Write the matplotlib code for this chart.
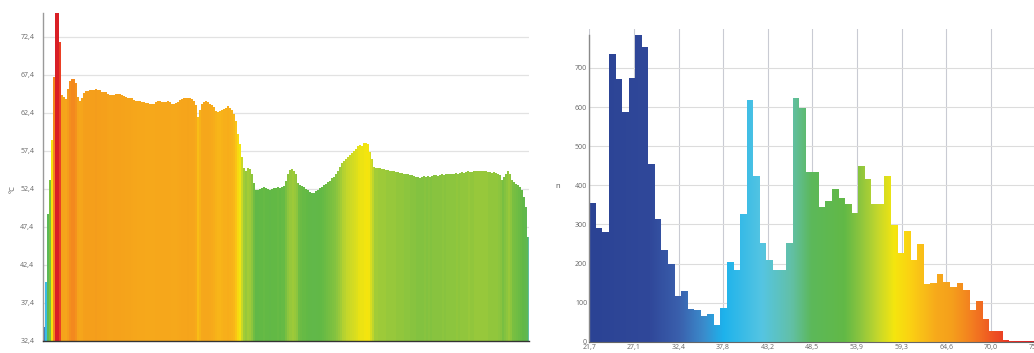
import numpy as np
import matplotlib
matplotlib.use("Agg")
import matplotlib.pyplot as plt
from matplotlib.colors import LinearSegmentedColormap, Normalize
from matplotlib.patches import Polygon

# ---------------- data ----------------
# temperature time series (°C), one value per sample
temperature = [
    34.3, 40.2, 49.1, 53.6, 58.8, 67.1, 76.0, 76.0, 71.7, 64.7,
    64.5, 64.2, 65.6, 66.6, 66.9, 66.9, 66.3, 64.5, 64.0, 64.3,
    65.0, 65.3, 65.3, 65.4, 65.4, 65.4, 65.5, 65.4, 65.4, 65.2,
    65.2, 65.1, 64.9, 64.7, 64.7, 64.8, 64.9, 64.9, 64.9, 64.7,
    64.6, 64.5, 64.4, 64.4, 64.3, 64.1, 64.0, 63.9, 63.9, 63.8,
    63.8, 63.7, 63.7, 63.6, 63.6, 63.6, 63.8, 63.9, 63.9, 63.8,
    63.8, 63.8, 63.9, 63.8, 63.6, 63.6, 63.7, 63.8, 64.1, 64.2,
    64.3, 64.3, 64.4, 64.3, 64.2, 64.0, 63.5, 61.9, 62.8, 63.6,
    63.8, 63.9, 63.8, 63.6, 63.4, 63.2, 62.7, 62.5, 62.6, 62.8,
    62.9, 63.1, 63.3, 63.1, 62.8, 62.3, 61.3, 59.6, 58.3, 56.6,
    55.2, 54.8, 55.2, 55.0, 54.3, 53.2, 52.2, 52.3, 52.4, 52.5,
    52.6, 52.5, 52.4, 52.3, 52.4, 52.5, 52.5, 52.6, 52.5, 52.7,
    52.8, 53.5, 54.4, 54.9, 55.0, 54.8, 54.3, 53.2, 52.9, 52.8,
    52.7, 52.4, 52.2, 52.0, 51.8, 51.9, 52.1, 52.3, 52.5, 52.7,
    52.9, 53.1, 53.3, 53.5, 53.8, 54.0, 54.3, 54.8, 55.3, 55.8,
    56.1, 56.4, 56.6, 56.8, 57.1, 57.4, 57.6, 58.0, 58.2, 58.1,
    58.4, 58.5, 58.3, 57.3, 56.3, 55.3, 55.2, 55.1, 55.1, 55.0,
    55.0, 54.9, 54.9, 54.8, 54.8, 54.7, 54.6, 54.6, 54.5, 54.5,
    54.4, 54.3, 54.3, 54.2, 54.2, 54.1, 54.0, 54.0, 53.9, 54.0,
    54.1, 54.0, 54.1, 54.0, 54.1, 54.2, 54.2, 54.1, 54.2, 54.3,
    54.2, 54.3, 54.4, 54.4, 54.3, 54.4, 54.5, 54.4, 54.5, 54.6,
    54.5, 54.6, 54.7, 54.6, 54.6, 54.7, 54.7, 54.8, 54.7, 54.7,
    54.8, 54.7, 54.6, 54.6, 54.5, 54.6, 54.5, 54.4, 54.2, 53.6,
    54.0, 54.4, 54.8, 54.3, 53.6, 53.3, 53.1, 52.9, 52.7, 52.2,
    51.4, 50.0, 46.1,
]
temp_ticks = [32.4, 37.4, 42.4, 47.4, 52.4, 57.4, 62.4, 67.4, 72.4]
temp_tick_labels = ["32,4", "37,4", "42,4", "47,4", "52,4", "57,4", "62,4", "67,4", "72,4"]
temp_unit = "°C"

# histogram of temperatures
hist_counts = [
    354, 292, 281, 735, 673, 587, 675, 784, 754, 454,
    314, 234, 198, 116, 130, 84, 82, 66, 70, 42,
    85, 204, 183, 326, 617, 425, 253, 210, 183, 183,
    253, 624, 597, 433, 433, 345, 360, 390, 367, 352,
    328, 449, 415, 352, 352, 423, 298, 226, 284, 210,
    249, 147, 151, 173, 153, 139, 151, 132, 81, 104,
    58, 27, 27, 4, 3, 2, 2, 1,
]
hist_min, hist_max = 21.7, 75.4
hist_ticks = [21.7, 27.07, 32.44, 37.81, 43.18, 48.55, 53.92, 59.29, 64.66, 70.03, 75.4]
hist_tick_labels = ["21,7", "27,1", "32,4", "37,8", "43,2", "48,5", "53,9", "59,3", "64,6", "70,0", "75,4"]
count_ticks = [0, 100, 200, 300, 400, 500, 600, 700]
count_label = "n"

# temperature colour scale
color_stops = [
    (21.7, "#2b4394"), (29.0, "#30489a"), (32.5, "#3a60ad"), (35.5, "#3a8ccc"),
    (37.8, "#1db2ec"), (42.5, "#55c5e2"), (46.0, "#62c0a8"), (48.5, "#5cb85a"),
    (52.5, "#62b946"), (54.5, "#8fc63e"), (56.5, "#c4d72c"), (58.5, "#f5e60e"),
    (60.5, "#fbd013"), (62.0, "#f9bd18"), (63.5, "#f7aa1b"), (65.5, "#f59f1c"),
    (68.0, "#f37c20"), (70.5, "#ee5223"), (73.0, "#e62b26"), (75.5, "#d91f26"),
]

# ---------------- figure ----------------
W, H = 1034, 353
fig = plt.figure(figsize=(W / 100, H / 100), dpi=100)
plt.rcParams["font.family"] = ["Open Sans", "DejaVu Sans"]

def frac(x0, y0, x1, y1):
    return [x0 / W, 1 - y1 / H, (x1 - x0) / W, (y1 - y0) / H]

vmin, vmax = color_stops[0][0], color_stops[-1][0]
cmap = LinearSegmentedColormap.from_list(
    "temp", [((v - vmin) / (vmax - vmin), c) for v, c in color_stops])
norm = Normalize(vmin=vmin, vmax=vmax)

tick_color = "#666666"
fs = 5

# ---- left: time series ----
ax1 = fig.add_axes(frac(42.7, 13.3, 528.7, 341))
t = np.asarray(temperature)
n = len(t)
ymin, ymax = 32.4, 75.5
verts = [(0, ymin)]
for i, v in enumerate(t):
    verts += [(i, v), (i + 1, v)]
verts += [(n, ymin)]
poly = Polygon(verts, closed=True, facecolor="none", edgecolor="none")
ax1.add_patch(poly)
im1 = ax1.imshow(t[None, :], cmap=cmap, norm=norm, extent=(0, n, ymin, ymax),
                 aspect="auto", interpolation="nearest", origin="lower", zorder=2)
im1.set_clip_path(poly)
ax1.set_xlim(0, n)
ax1.set_ylim(ymin, ymax)
ax1.set_yticks(temp_ticks)
ax1.set_yticklabels(temp_tick_labels)
ax1.set_xticks([])
ax1.tick_params(axis="y", length=0, pad=6, labelsize=fs, labelcolor=tick_color)
ax1.grid(axis="y", color="#e2e2e2", linewidth=0.9)
ax1.set_axisbelow(True)
for s in ["top", "right"]:
    ax1.spines[s].set_visible(False)
ax1.spines["left"].set_color("#9a9a9a")
ax1.spines["left"].set_linewidth(1.0)
ax1.spines["bottom"].set_color("#333333")
ax1.spines["bottom"].set_linewidth(1.0)
fig.text(13 / W, 1 - 189 / H, temp_unit, rotation=90, ha="center", va="center",
         fontsize=5.5, color="#555555")

# ---- right: histogram ----
x_left_px, x_right_px = 589.3, 1040.0
px_per_unit = 44.6 / 5.37
xlim_max = hist_min + (x_right_px - x_left_px) / px_per_unit
ax2 = fig.add_axes(frac(x_left_px, 28.9, x_right_px, 341.7))
counts = np.asarray(hist_counts)
edges = np.linspace(hist_min, hist_max, len(counts) + 1)
hverts = [(edges[0], 0)]
for i, c in enumerate(counts):
    hverts += [(edges[i], c), (edges[i + 1], c)]
hverts += [(edges[-1], 0)]
hpoly = Polygon(hverts, closed=True, facecolor="none", edgecolor="none")
ax2.add_patch(hpoly)
grad = np.linspace(hist_min, xlim_max, 800)[None, :]
im2 = ax2.imshow(grad, cmap=cmap, norm=norm, extent=(hist_min, xlim_max, 0, 800),
                 aspect="auto", interpolation="bilinear", origin="lower", zorder=2)
im2.set_clip_path(hpoly)
ax2.set_xlim(hist_min, xlim_max)
ax2.set_ylim(0, 800)
ax2.set_xticks(hist_ticks)
ax2.set_xticklabels(hist_tick_labels)
ax2.set_yticks(count_ticks)
ax2.tick_params(axis="both", length=0, labelsize=fs, labelcolor=tick_color)
ax2.tick_params(axis="y", pad=1.5)
ax2.tick_params(axis="x", pad=2)
ax2.grid(axis="y", color="#dcdcdc", linewidth=0.8)
ax2.grid(axis="x", color="#c9cbd3", linewidth=0.8)
ax2.set_axisbelow(True)
for s in ["top", "right"]:
    ax2.spines[s].set_visible(False)
ax2.spines["left"].set_color("#8a8a8a")
ax2.spines["left"].set_linewidth(1.0)
ax2.spines["left"].set_bounds(0, 785)
ax2.spines["bottom"].set_color("#666666")
ax2.spines["bottom"].set_linewidth(0.8)
fig.text(558 / W, 1 - 187 / H, count_label, ha="center", va="center",
         fontsize=5.5, color="#555555")

fig.savefig("out.png", dpi=100)
